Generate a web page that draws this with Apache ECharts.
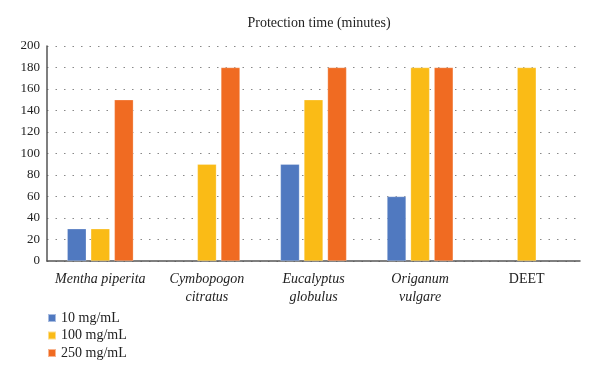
<!DOCTYPE html>
<html>
<head>
<meta charset="utf-8">
<script src="https://cdn.jsdelivr.net/npm/echarts@6/dist/echarts.min.js"></script>
<style>
  html, body { margin: 0; padding: 0; background: #fff; }
  #chart { width: 600px; height: 380px; }
</style>
</head>
<body>
<div id="chart"></div>
<script>
// data
const categories = ['Mentha piperita', 'Cymbopogon\ncitratus', 'Eucalyptus\nglobulus', 'Origanum\nvulgare', 'DEET']
const italicCats = [true, true, true, true, false]
const seriesNames = ['10 mg/mL', '100 mg/mL', '250 mg/mL']
const low = [30, null, 90, 60, null]
const mid = [30, 90, 150, 180, 180]
const high = [150, 180, 180, 180, null]
const yTicks = { min: 0, max: 200, interval: 20 }

const colors = ['#5079c0', '#fabb16', '#f06b22']
const font = '"Liberation Serif", "DejaVu Serif", serif'

const chart = echarts.init(document.getElementById('chart'))

const makeBar = (name, data, i) => ({
	name,
	type: 'bar',
	data,
	barWidth: 19,
	barGap: '24%',
	itemStyle: {
		color: colors[i],
		borderColor: 'rgba(255,255,255,0.5)',
		borderWidth: 0.5
	}
})

const option = {
	animation: false,
	textStyle: { fontFamily: font },
	title: {
		text: 'Protection time (minutes)',
		left: 314,
		textAlign: 'center',
		top: 11,
		textStyle: { fontFamily: font, fontSize: 14, fontWeight: 'normal', color: '#222' }
	},
	grid: { left: 47, right: 20, top: 46, bottom: 119 },
	legend: {
		orient: 'vertical',
		left: 42,
		top: 306,
		itemWidth: 8,
		itemHeight: 8,
		itemGap: 3.5,
		icon: 'rect',
		textStyle: { fontFamily: font, fontSize: 14, color: '#222' },
		data: seriesNames
	},
	xAxis: {
		type: 'category',
		data: categories,
		axisLine: { lineStyle: { color: '#555', width: 1.5 } },
		axisTick: { show: false },
		axisLabel: {
			interval: 0,
			margin: 9,
			lineHeight: 18,
			fontFamily: font,
			fontSize: 14,
			color: '#222',
			formatter: (v, idx) => italicCats[idx] ? v.split('\n').map(s => '{i|' + s + '}').join('\n') : v,
			rich: {
				i: { fontStyle: 'italic', fontFamily: font, fontSize: 14, color: '#222', lineHeight: 18 }
			}
		}
	},
	yAxis: {
		type: 'value',
		min: yTicks.min,
		max: yTicks.max,
		interval: yTicks.interval,
		axisLine: { show: true, lineStyle: { color: '#555', width: 1.5 } },
		axisTick: { show: false },
		axisLabel: { margin: 7, fontFamily: font, fontSize: 13, color: '#222' },
		splitLine: { lineStyle: { color: '#888', type: [1.5, 7], width: 1 } }
	},
	series: [
		makeBar(seriesNames[0], low, 0),
		makeBar(seriesNames[1], mid, 1),
		makeBar(seriesNames[2], high, 2)
	]
}

chart.setOption(option)
</script>
</body>
</html>
